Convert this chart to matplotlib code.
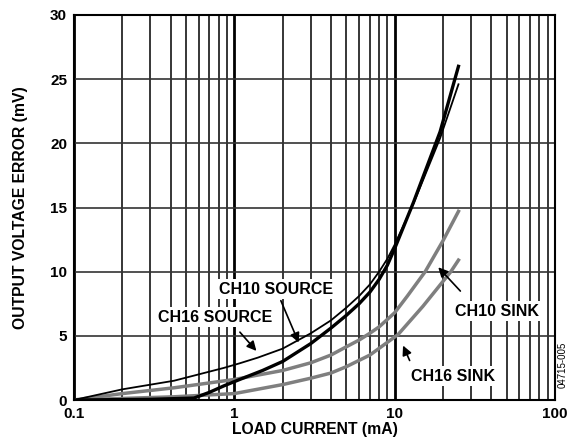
#Output voltage error vs load current

import matplotlib
matplotlib.use('Agg')
import matplotlib.pyplot as plt
from matplotlib.ticker import LogLocator, FixedLocator, NullFormatter

plt.rcParams['font.family'] = ['Liberation Sans', 'DejaVu Sans']

#Curve data (mA, mV)
i_ch16_source = [0.1, 0.2, 0.42, 0.86, 1.08, 1.4, 2, 3, 4, 5, 6, 7, 8, 9, 10, 13.1, 19.2, 25]
v_ch16_source = [0, 0.83, 1.5, 2.5, 2.86, 3.3, 4.0, 5.2, 6.2, 7.2, 8.1, 9.0, 10.0, 11.0, 12.1, 15.3, 20.4, 24.6]

i_ch10_source = [0.1, 0.3, 0.56, 0.7, 0.86, 1.08, 1.5, 2, 3, 4, 5, 6, 7, 8, 9, 10, 13.1, 19.2, 25]
v_ch10_source = [0, 0.05, 0.15, 0.6, 1.1, 1.6, 2.3, 3.0, 4.4, 5.6, 6.6, 7.5, 8.4, 9.4, 10.5, 11.8, 15.4, 20.9, 26.0]

i_ch10_sink = [0.1, 0.2, 0.42, 1, 2, 3, 4, 5, 6, 7, 8, 10, 12, 15.5, 20, 25]
v_ch10_sink = [0, 0.5, 0.95, 1.6, 2.3, 2.9, 3.5, 4.15, 4.67, 5.2, 5.7, 6.8, 8.1, 10.0, 12.4, 14.7]

i_ch16_sink = [0.1, 0.42, 1, 2, 3, 4, 5, 7, 10.5, 15, 22.4, 25]
v_ch16_sink = [0, 0.25, 0.5, 1.2, 1.7, 2.1, 2.6, 3.5, 5.1, 7.3, 10.0, 10.9]

x_ticks = [0.1, 1, 10, 100]
x_tick_labels = ['0.1', '1', '10', '100']
y_ticks = [0, 5, 10, 15, 20, 25, 30]

#Labels: text, text position, arrow tail, arrow head
labels = [
	('CH10 SOURCE', (1.82, 8.64), (1.92, 7.94), (2.56, 4.28)),
	('CH16 SOURCE', (0.76, 6.46), (1.055, 5.45), (1.41, 3.66)),
	('CH10 SINK', (43.5, 6.93), (26.4, 8.33), (18.2, 10.5)),
	('CH16 SINK', (23.1, 1.87), (12.6, 2.88), (11.1, 4.44)),
]

fig = plt.figure(figsize=(5.74, 4.45), dpi=100)
ax = fig.add_axes([74/574, 45/445, 481/574, 385/445])

ax.set_xscale('log')
ax.set_xlim(0.1, 100)
ax.set_ylim(0, 30)

#Grid: every minor decade line, major decades heavier
ax.xaxis.set_major_locator(FixedLocator(x_ticks))
ax.xaxis.set_minor_locator(LogLocator(base=10, subs=range(2, 10)))
ax.xaxis.set_minor_formatter(NullFormatter())
ax.set_xticks(x_ticks)
ax.set_xticklabels(x_tick_labels)
ax.set_yticks(y_ticks)
ax.grid(True, which='minor', axis='x', color='black', lw=1.1)
ax.grid(True, which='major', axis='x', color='black', lw=2.0)
ax.grid(True, which='major', axis='y', color='#333333', lw=1.2)
ax.set_axisbelow(True)

ax.tick_params(which='both', length=0, labelsize=11, pad=5)
for lbl in ax.get_xticklabels() + ax.get_yticklabels():
	lbl.set_fontweight('bold')
for s in ax.spines.values():
	s.set_linewidth(1.5)
	s.set_color('black')

#Curves
ax.plot(i_ch16_sink, v_ch16_sink, color='#7f7f7f', lw=2.5)
ax.plot(i_ch10_sink, v_ch10_sink, color='#7f7f7f', lw=2.5)
ax.plot(i_ch16_source, v_ch16_source, color='black', lw=1.3)
ax.plot(i_ch10_source, v_ch10_source, color='black', lw=2.4)

#Annotations
for text, pos, tail, head in labels:
	ax.text(pos[0], pos[1], text, ha='center', va='center', fontsize=11.5, fontweight='bold',
		bbox=dict(fc='white', ec='none', pad=2), zorder=5)
	ax.annotate('', xy=head, xytext=tail,
		arrowprops=dict(arrowstyle='-|>', color='black', lw=1.2, mutation_scale=14), zorder=6)

ax.set_xlabel('LOAD CURRENT (mA)', fontsize=11.3, fontweight='bold', labelpad=1)
ax.set_ylabel('OUTPUT VOLTAGE ERROR (mV)', fontsize=11.3, fontweight='bold', labelpad=16)

fig.text(563/574, 1 - 365/445, '04715-005', rotation=90, ha='center', va='center', fontsize=7)

fig.savefig('out.png', dpi=100)
